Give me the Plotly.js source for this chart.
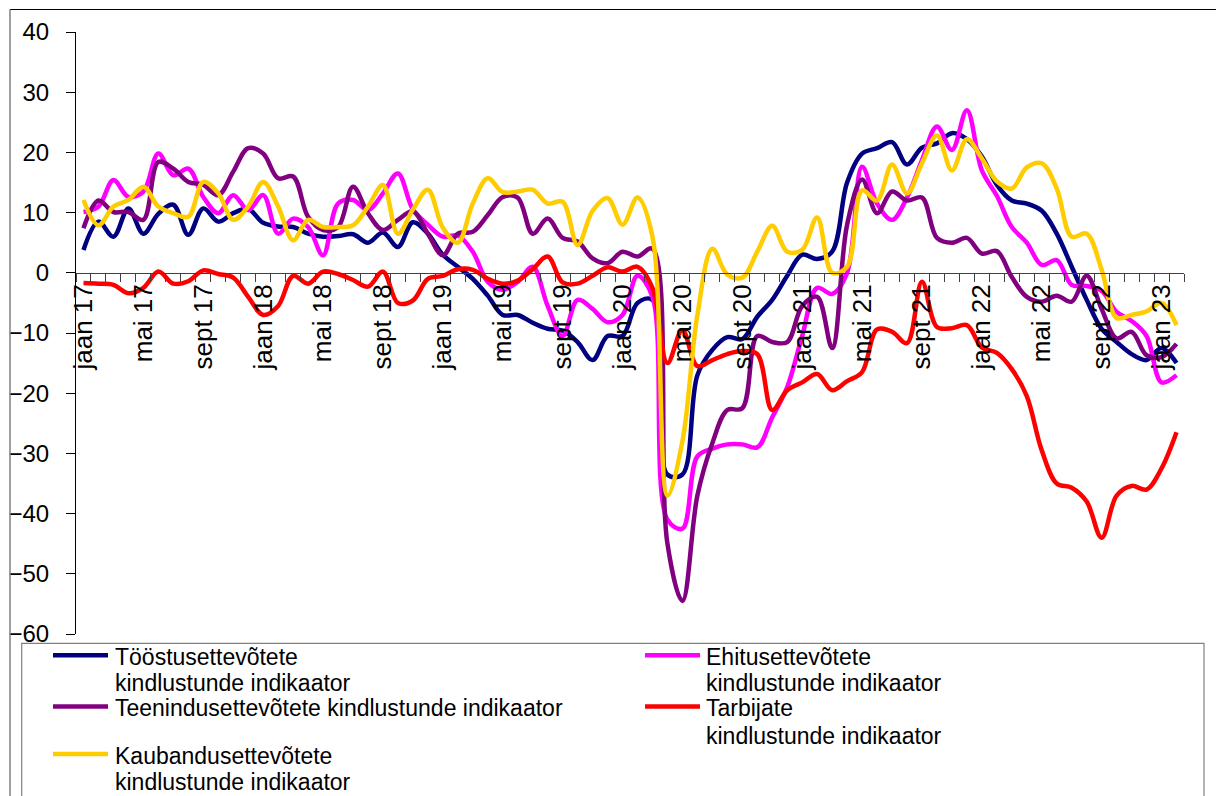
<!DOCTYPE html>
<html>
<head>
<meta charset="utf-8">
<script src="https://cdn.plot.ly/plotly-3.0.1.min.js"></script>
<style>html,body{margin:0;padding:0;background:#fff;}</style>
</head>
<body>
<div id="chart" style="width:1216px;height:796px;"></div>
<script>
// Months (categories)
const months = [
 'jaan 17','veebr 17','märts 17','apr 17','mai 17','juuni 17','juuli 17','aug 17','sept 17','okt 17','nov 17','dets 17',
 'jaan 18','veebr 18','märts 18','apr 18','mai 18','juuni 18','juuli 18','aug 18','sept 18','okt 18','nov 18','dets 18',
 'jaan 19','veebr 19','märts 19','apr 19','mai 19','juuni 19','juuli 19','aug 19','sept 19','okt 19','nov 19','dets 19',
 'jaan 20','veebr 20','märts 20','apr 20','mai 20','juuni 20','juuli 20','aug 20','sept 20','okt 20','nov 20','dets 20',
 'jaan 21','veebr 21','märts 21','apr 21','mai 21','juuni 21','juuli 21','aug 21','sept 21','okt 21','nov 21','dets 21',
 'jaan 22','veebr 22','märts 22','apr 22','mai 22','juuni 22','juuli 22','aug 22','sept 22','okt 22','nov 22','dets 22',
 'jaan 23','veebr 23'
];
// Labelled ticks
const tickLabels = ['jaan 17','mai 17','sept 17','jaan 18','mai 18','sept 18','jaan 19','mai 19','sept 19',
 'jaan 20','mai 20','sept 20','jaan 21','mai 21','sept 21','jaan 22','mai 22','sept 22','jaan 23'];

// Series values
const toostus = [3.8,8.5,6.0,10.7,6.5,9.8,11.3,6.3,10.7,8.5,9.9,10.6,
 8.3,7.7,7.6,6.5,6.0,6.1,6.4,5.0,6.7,4.3,8.4,6.5,
 3.0,1.0,-1.0,-3.8,-7.0,-7.0,-8.3,-9.3,-9.6,-11.5,-14.5,-10.5,
 -10.5,-5.0,-4.5,-33.5,-33.5,-17.0,-12.8,-10.7,-11.0,-7.3,-4.5,-0.5,
 3.0,2.3,3.5,15.0,19.8,20.7,21.7,18.0,20.8,21.5,23.2,22.2,
 19.3,14.6,12.0,11.5,10.3,6.5,1.0,-4.5,-9.3,-11.5,-13.5,-14.5,
 -12.5,-15.0];
const ehitus = [10.1,11.0,15.4,12.6,13.5,19.8,16.2,17.3,12.6,9.9,12.9,10.4,
 12.9,6.5,9.0,7.6,2.9,11.5,12.1,10.4,13.2,16.5,10.5,8.0,
 6.0,6.2,3.5,-1.5,-2.8,-1.5,1.0,-5.5,-10.5,-4.5,-6.0,-8.2,
 -7.0,-0.5,-4.0,-41.0,-42.5,-30.5,-29.2,-28.5,-28.5,-29.0,-24.0,-19.0,
 -10.5,-2.5,-3.5,0.0,17.6,11.5,8.8,12.5,18.7,24.3,20.4,27.0,
 17.0,12.8,7.6,5.0,1.3,2.1,-2.0,-2.2,-3.0,-6.5,-8.0,-10.5,
 -18.2,-17.0];
const teenindus = [7.4,12.0,10.1,10.1,8.8,18.4,17.3,15.1,14.6,12.9,16.8,20.7,
 19.8,15.7,16.0,9.3,7.1,7.6,14.3,9.9,7.1,8.8,10.2,6.5,
 2.9,6.5,6.8,9.6,12.6,12.5,6.5,9.0,5.8,5.2,2.4,1.6,
 3.5,2.7,4.0,-45.0,-54.5,-37.0,-28.3,-22.8,-22.5,-10.5,-11.5,-11.5,
 -5.5,-4.0,-12.5,8.0,15.5,9.9,13.5,12.0,12.5,5.8,5.0,5.8,
 3.2,3.6,-0.7,-4.0,-4.8,-3.8,-4.8,-0.5,-6.0,-10.9,-9.8,-13.7,
 -14.0,-11.8];
const tarbijate = [-1.7,-1.8,-2.0,-3.4,-2.5,0.2,-1.8,-1.4,0.4,-0.2,-0.8,-4.0,
 -7.0,-5.5,-0.5,-1.8,0.2,-0.2,-1.2,-2.3,0.2,-5.0,-4.6,-1.0,
 -0.5,0.6,0.5,-1.0,-1.8,-1.3,0.6,2.7,-1.6,-1.8,-0.5,0.9,
 0.2,1.0,-2.5,-15.0,-9.5,-15.5,-14.5,-13.5,-13.0,-13.5,-22.8,-19.5,
 -18.2,-16.8,-19.5,-18.0,-16.5,-9.4,-9.8,-11.7,-1.5,-9.0,-9.2,-8.7,
 -12.4,-13.3,-16.0,-20.5,-29.5,-35.0,-35.7,-38.0,-44.0,-37.0,-35.4,-36.0,
 -32.5,-26.5];
const kaubandus = [12.1,7.9,11.0,12.1,14.3,11.0,9.9,9.3,15.1,13.2,8.8,11.0,
 15.1,11.0,5.4,8.8,7.6,7.6,7.9,11.0,14.6,6.5,10.5,13.8,
 7.5,5.0,11.5,15.7,13.4,13.5,13.8,11.5,11.8,4.6,10.3,12.4,
 8.0,12.5,6.0,-37.0,-28.0,-7.0,4.0,-0.3,-0.8,3.5,7.8,3.5,
 3.8,9.2,0.0,1.0,13.7,12.0,18.0,13.2,18.2,22.8,17.0,22.2,
 19.0,15.2,14.0,17.5,18.2,14.0,6.0,6.5,0.5,-7.5,-7.0,-6.4,
 -5.0,-8.7];

const seriesNames = [
 'Tööstusettevõtete kindlustunde indikaator',
 'Ehitusettevõtete kindlustunde indikaator',
 'Teenindusettevõtete kindlustunde indikaator',
 'Tarbijate kindlustunde indikaator',
 'Kaubandusettevõtete kindlustunde indikaator'
];
const legendLines = [
 ['Tööstusettevõtete','kindlustunde indikaator'],
 ['Ehitusettevõtete','kindlustunde indikaator'],
 ['Teenindusettevõtete kindlustunde indikaator'],
 ['Tarbijate','kindlustunde indikaator'],
 ['Kaubandusettevõtete','kindlustunde indikaator']
];
const seriesValues = [toostus, ehitus, teenindus, tarbijate, kaubandus];
const colors = ['#000080','#FF00FF','#800080','#FF0000','#FFCC00'];

const FONT = 'Liberation Sans, Arial, Helvetica, sans-serif';
const W = 1216, H = 796;
const M = {l:76, r:32, t:32, b:162};
const PW = W - M.l - M.r, PH = H - M.t - M.b;
const px = x => (x - M.l) / PW;            // pixel -> paper x
const py = y => (H - M.b - y) / PH;        // pixel -> paper y

const traces = seriesValues.map((vals, k) => ({
  type:'scatter', mode:'lines', name: seriesNames[k],
  x: months, y: vals,
  line:{color: colors[k], width:4.5, shape:'spline', smoothing:1},
  showlegend:false, hoverinfo:'x+y+name'
}));

// Manual legend (grid like the original)
const legendPos = [
  {lx:53,  tx:112.7, ys:[656.7,683.3]},
  {lx:645, tx:704.2, ys:[656.7,683.3]},
  {lx:53,  tx:112.7, ys:[708]},
  {lx:645, tx:704.2, ys:[708,735.5]},
  {lx:53,  tx:112.7, ys:[755.5,782.2]}
];
const shapes = [
  // outer frame
  {type:'line', xref:'paper', yref:'paper', x0:px(10), x1:px(1216), y0:py(9.5), y1:py(9.5), line:{color:'#000', width:1}},
  {type:'line', xref:'paper', yref:'paper', x0:px(10), x1:px(10), y0:py(9.5), y1:py(800), line:{color:'#808080', width:1.5}},
  // legend box
  {type:'rect', xref:'paper', yref:'paper', x0:px(21.7), x1:px(1204), y0:py(643.3), y1:py(820), line:{color:'#808080', width:1.2}, fillcolor:'rgba(0,0,0,0)'}
];
const annotations = [];
legendPos.forEach((p, k) => {
  shapes.push({type:'line', xref:'paper', yref:'paper', x0:px(p.lx), x1:px(p.lx+55), y0:py(p.ys[0]-1.5), y1:py(p.ys[0]-1.5),
    line:{color:colors[k], width:4.5}});
  legendLines[k].forEach((t, j) => {
    annotations.push({xref:'paper', yref:'paper', x:px(p.tx), y:py(p.ys[j]), xanchor:'left', yanchor:'middle',
      text:t, showarrow:false, font:{family:FONT, size:23, color:'#000'}});
  });
});

const tickText = months.map(m => tickLabels.includes(m) ? m : '');

const layout = {
  width:W, height:H, margin:M,
  paper_bgcolor:'#fff', plot_bgcolor:'#fff',
  font:{family:FONT, color:'#000'},
  showlegend:false,
  xaxis:{
    type:'category', anchor:'free', position:0.6,
    range:[-0.5, months.length-0.5],
    tickmode:'array', tickvals:months, ticktext:tickText,
    tickson:'boundaries', ticks:'outside', ticklen:8, tickcolor:'#404040', tickwidth:1,
    showline:true, linecolor:'#404040', linewidth:1,
    showgrid:false, zeroline:false,
    tickangle:-90, tickfont:{family:FONT, size:26, color:'#000'}
  },
  yaxis:{
    range:[-60,40], tick0:0, dtick:10, tickmode:'linear',
    ticks:'outside', ticklen:9, tickcolor:'#000', tickwidth:1,
    showline:true, linecolor:'#000', linewidth:1,
    showgrid:false, zeroline:false,
    tickfont:{family:FONT, size:24, color:'#000'},
    ticklabelstandoff:12
  },
  shapes, annotations
};

Plotly.newPlot('chart', traces, layout, {displayModeBar:false, responsive:false, staticPlot:false});
</script>
</body>
</html>
